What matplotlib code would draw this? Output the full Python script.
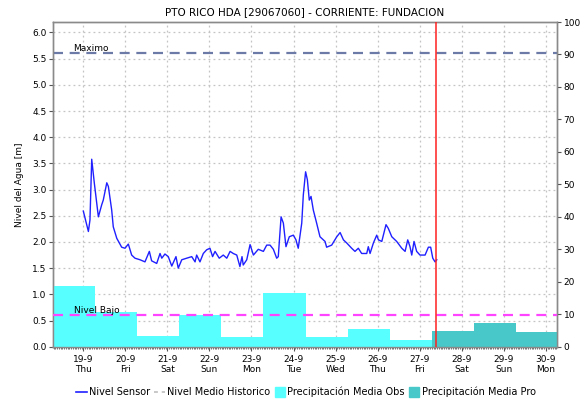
import matplotlib
matplotlib.use("Agg")
import matplotlib.pyplot as plt
from matplotlib.lines import Line2D
import numpy as np

plt.rcParams['font.family'] = ['DejaVu Sans']

# --- data -------------------------------------------------------------
title = "PTO RICO HDA [29067060] - CORRIENTE: FUNDACION"

# sensor readings: hours since 19-9 00:00 and water level [m]
sensor_hours = [0.0, 2.9, 3.8, 4.8, 6.3, 8.6, 10.5, 11.4, 13.4, 14.3, 16.2, 17.1,
                19.1, 21.9, 23.8, 25.7, 27.6, 29.5, 32.4, 35.2, 37.7, 39.0, 41.9,
                43.8, 44.8, 46.6, 48.5, 50.5, 52.9, 54.2, 56.2, 59.0, 61.9, 63.8,
                64.7, 66.6, 68.5, 70.4, 72.3, 73.8, 75.2, 77.6, 79.9, 81.9, 83.8,
                85.6, 87.6, 89.4, 90.6, 91.3, 93.3, 95.2, 97.1, 99.9, 102.8, 104.7,
                106.6, 108.5, 110.4, 111.3, 112.9, 114.2, 115.7, 117.6, 119.9,
                121.4, 122.7, 124.7, 125.6, 126.9, 127.9, 129.0, 130.0, 131.3,
                133.2, 135.1, 138.0, 138.9, 141.8, 144.7, 146.6, 148.5, 150.4,
                153.2, 155.1, 157.0, 158.9, 161.8, 162.7, 163.7, 165.6, 167.5,
                168.5, 170.4, 172.8, 174.1, 176.1, 178.9, 181.8, 183.7, 185.2,
                186.5, 187.5, 188.8, 190.3, 192.2, 195.1, 197.0, 198.3, 199.5,
                200.8, 201.8]
sensor_level = [2.59, 2.20, 2.42, 3.58, 3.12, 2.48, 2.71, 2.80, 3.13, 3.06, 2.61, 2.29,
                2.07, 1.90, 1.88, 1.96, 1.75, 1.69, 1.66, 1.62, 1.82, 1.64, 1.59,
                1.78, 1.69, 1.77, 1.72, 1.54, 1.72, 1.50, 1.66, 1.69, 1.72, 1.62,
                1.75, 1.62, 1.78, 1.85, 1.88, 1.72, 1.82, 1.69, 1.75, 1.69, 1.82,
                1.78, 1.75, 1.53, 1.72, 1.56, 1.66, 1.95, 1.75, 1.86, 1.82, 1.94,
                1.94, 1.86, 1.69, 1.72, 2.48, 2.36, 1.91, 2.10, 2.13,
                2.04, 1.88, 2.36, 2.90, 3.34, 3.19, 2.80, 2.87, 2.61,
                2.36, 2.10, 2.01, 1.90, 1.94, 2.10, 2.18, 2.04, 1.98,
                1.88, 1.82, 1.88, 1.78, 1.78, 1.91, 1.78, 1.98, 2.13,
                2.04, 2.01, 2.33, 2.26, 2.10, 2.01, 1.88, 1.82, 2.04,
                1.91, 1.75, 2.01, 1.82, 1.75, 1.75, 1.90, 1.90, 1.69,
                1.62, 1.66]

# daily precipitation [mm]
precip_obs = [18.8, 10.8, 3.4, 9.7, 3.1, 16.6, 3.1, 5.5, 2.1]
precip_pro = [4.9, 7.3, 4.6]

day_labels = ["19-9\nThu", "20-9\nFri", "21-9\nSat", "22-9\nSun", "23-9\nMon",
              "24-9\nTue", "25-9\nWed", "26-9\nThu", "27-9\nFri", "28-9\nSat",
              "29-9\nSun", "30-9\nMon"]

nivel_maximo = 5.6
nivel_bajo = 0.6
now_hour = 201.4

# --- figure ------------------------------------------------------------
fig = plt.figure(figsize=(5.85, 4.01), dpi=100)
ax = fig.add_axes([0.0911, 0.1354, 0.8605, 0.8097])
ax2 = ax.twinx()

x_min, x_max = -0.714, 11.26
bar_offset = -0.214

frame_col = "#8a8a8a"
grid_col = "#c4c4c4"

# level axis (grid and sensor line, drawn underneath)
ax.set_xlim(x_min, x_max)
ax.set_ylim(0, 6.2)
ax.set_yticks(np.arange(0, 6.01, 0.5))
ax.set_yticklabels([f"{v:.1f}" for v in np.arange(0, 6.01, 0.5)])
ax.set_xticks(np.arange(len(day_labels)))
ax.set_xticklabels(day_labels)
ax.set_xticks(np.arange(-17, 11.26 * 24, 1) / 24.0, minor=True)
ax.grid(True, which="major", color=grid_col, linestyle=(0, (1.5, 2.5)), linewidth=0.9)
ax.set_axisbelow(True)

sensor_days = np.array(sensor_hours) / 24.0
ax.plot(sensor_days, sensor_level, color="#2020ff", linewidth=1.0, zorder=3)
ax.axhline(nivel_maximo, color="#6b7aa6", linestyle=(0, (4.5, 3)), linewidth=1.6, zorder=3)
ax.text(-0.25, nivel_maximo + 0.01, "Maximo", fontsize=6.5, ha="left", va="bottom")

# precipitation axis (bars on top of the grid)
ax2.set_ylim(0, 100)
ax2.set_yticks(np.arange(0, 101, 10))
obs_x = np.arange(len(precip_obs)) + bar_offset
pro_x = np.arange(len(precip_obs), len(precip_obs) + len(precip_pro)) + bar_offset
ax2.bar(obs_x, precip_obs, width=1.0, color="#58ffff", linewidth=0, zorder=1)
ax2.bar(pro_x, precip_pro, width=1.0, color="#48c8c8", linewidth=0, zorder=1)
ax2.set_xlim(x_min, x_max)

# low level line and current-time marker above the bars
ax2.plot([x_min, x_max], [nivel_bajo, nivel_bajo], transform=ax.transData,
         color="#ff44ff", linestyle=(0, (4.5, 3)), linewidth=1.6, zorder=4)
ax2.text(-0.23, nivel_bajo + 0.01, "Nivel Bajo", fontsize=6.5, ha="left", va="bottom",
         transform=ax.transData, zorder=5)
ax2.axvline(now_hour / 24.0, color="#ff2020", linewidth=1.1, zorder=5)

for a in (ax, ax2):
    for s in a.spines.values():
        s.set_color(frame_col)
        s.set_linewidth(1.0)
    a.tick_params(axis="both", which="major", labelsize=6.5, length=3, width=0.8,
                  color="#555555", pad=2)
ax.tick_params(axis="x", which="minor", length=1.5, width=0.6, color="#555555")
ax.tick_params(axis="x", which="major", length=3, pad=3)

ax.set_ylabel("Nivel del Agua [m]", fontsize=6.5, labelpad=6)
ax.set_title(title, fontsize=7.5, pad=5)

handles = [
    Line2D([], [], color="#2020ff", linewidth=1.2),
    Line2D([], [], color="#c8c8c8", linestyle=(0, (2, 2)), linewidth=1.4),
    Line2D([], [], color="#58ffff", marker="s", linestyle="none", markersize=7),
    Line2D([], [], color="#48c8c8", marker="s", linestyle="none", markersize=7),
]
labels = ["Nivel Sensor", "Nivel Medio Historico", "Precipitación Media Obs",
          "Precipitación Media Pro"]
fig.legend(handles, labels, loc="center", bbox_to_anchor=(0.523, 0.022), ncol=4,
           frameon=False, fontsize=7, handlelength=1.1, handletextpad=0.25,
           columnspacing=0.4, borderaxespad=0, borderpad=0)

fig.savefig("out.png", dpi=100)
